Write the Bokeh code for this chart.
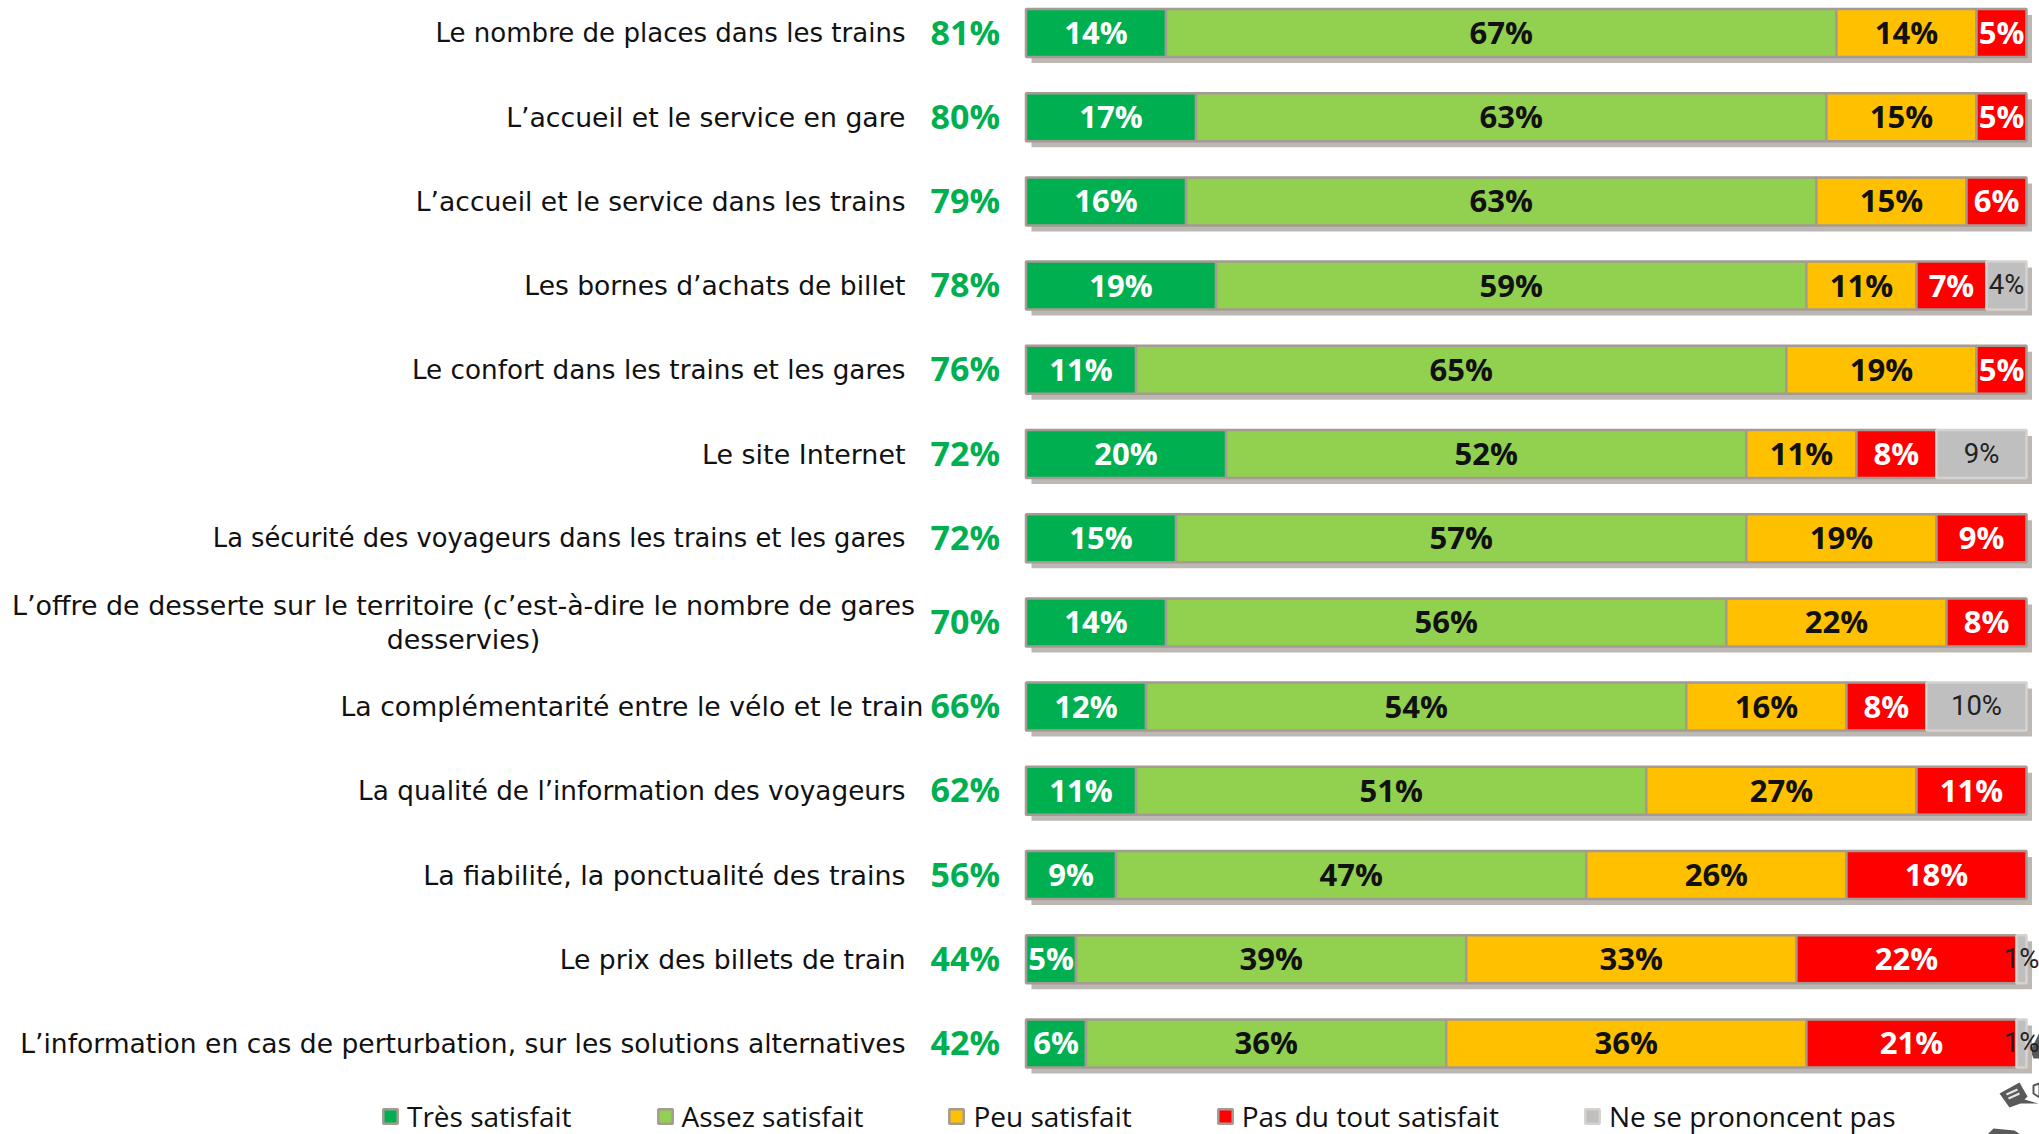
from bokeh.plotting import figure
from bokeh.models import ColumnDataSource, Legend, LegendItem, Range1d
from bokeh.core.properties import value
from bokeh.embed import file_html
from bokeh.resources import INLINE

categories = [
    "Le nombre de places dans les trains",
    "L’accueil et le service en gare",
    "L’accueil et le service dans les trains",
    "Les bornes d’achats de billet",
    "Le confort dans les trains et les gares",
    "Le site Internet",
    "La sécurité des voyageurs dans les trains et les gares",
    "L’offre de desserte sur le territoire (c’est-à-dire le nombre de gares\ndesservies)",
    "La complémentarité entre le vélo et le train",
    "La qualité de l’information des voyageurs",
    "La fiabilité, la ponctualité des trains",
    "Le prix des billets de train",
    "L’information en cas de perturbation, sur les solutions alternatives",
]
totals = [81, 80, 79, 78, 76, 72, 72, 70, 66, 62, 56, 44, 42]
tres = [14, 17, 16, 19, 11, 20, 15, 14, 12, 11, 9, 5, 6]
assez = [67, 63, 63, 59, 65, 52, 57, 56, 54, 51, 47, 39, 36]
peu = [14, 15, 15, 11, 19, 11, 19, 22, 16, 27, 26, 33, 36]
pas_du_tout = [5, 5, 6, 7, 5, 8, 9, 8, 8, 11, 18, 22, 21]
nspp = [0, 0, 0, 4, 0, 9, 0, 0, 10, 0, 0, 1, 1]

series = [
    ("Très satisfait", tres, "#00B050", "white", "bold", "#A59B94"),
    ("Assez satisfait", assez, "#92D050", "#111111", "bold", "#A59B94"),
    ("Peu satisfait", peu, "#FFC000", "#111111", "bold", "#A59B94"),
    ("Pas du tout satisfait", pas_du_tout, "#FF0000", "white", "bold", "#A59B94"),
    ("Ne se prononcent pas", nspp, "#BFBFBF", "#222222", "normal", "#D6D2D0"),
]

W, H = 2039, 1134
PX_X0, PX_PER_PCT = 1025.5, 10.005
PX_Y0, PX_PER_ROW = 32.5, 84.2
FONT = "Open Sans"
LABEL_FONT = "DejaVu Sans"
LABEL_SIZES = [26.05, 26.7, 26.55, 26.55, 26.25, 26.9, 25.75, 26.9, 26.7, 26.3, 26.9, 26.6, 26.55]


def X(px):
    return (px - PX_X0) / PX_PER_PCT


def Y(px):
    return (px - PX_Y0) / PX_PER_ROW


p = figure(width=W, height=H, output_backend="svg", toolbar_location=None,
           x_range=Range1d(X(0), X(W)), y_range=Range1d(Y(H), Y(0)),
           min_border=0, x_axis_location=None, y_axis_location=None)
p.outline_line_color = None
p.grid.visible = False
p.background_fill_color = "white"

# speech-bubble decoration, bottom right corner
p.patch(x=[X(v) for v in (1999, 2019, 2027, 2024, 2038, 2020, 2009)],
        y=[Y(v) for v in (1093, 1082, 1096, 1099, 1103, 1103, 1107)],
        fill_color="#595959", line_color=None)
p.multi_line(xs=[[X(2006), X(2017)], [X(2008), X(2019)]],
             ys=[[Y(1094), Y(1089)], [Y(1098), Y(1093)]],
             line_color="#E8E8E8", line_width=2)
p.patch(x=[X(v) for v in (2033, 2039, 2039, 2033)],
        y=[Y(v) for v in (1085, 1083, 1097, 1093)],
        fill_color="white", line_color="#595959", line_width=2)
p.patch(x=[X(v) for v in (1987, 1993, 2014, 2020, 1987)],
        y=[Y(v) for v in (1134, 1128, 1130, 1134, 1134)],
        fill_color="#595959", line_color=None)
p.patch(x=[X(v) for v in (2030, 2039, 2039, 2033)],
        y=[Y(v) for v in (1050, 1032, 1058, 1058)],
        fill_color="#595959", line_color=None)

rows = list(range(len(categories)))
BAR_H = 48 / PX_PER_ROW
shadow_dy = 6 / PX_PER_ROW
shadow_dx = 5.5 / PX_PER_PCT

p.quad(left=[shadow_dx] * len(rows), right=[100 + shadow_dx] * len(rows),
       top=[r - BAR_H / 2 + shadow_dy for r in rows],
       bottom=[r + BAR_H / 2 + shadow_dy for r in rows],
       fill_color="#BDB8B4", line_color=None)

left = [0] * len(rows)
items = []
for name, vals, col, tcol, tstyle, lcol in series:
    rr = [r for r, v in zip(rows, vals) if v > 0]
    ll = [l for l, v in zip(left, vals) if v > 0]
    vv = [v for v in vals if v > 0]
    src = ColumnDataSource(dict(
        y=rr, left=ll, right=[l + v for l, v in zip(ll, vv)],
        mid=[l + v / 2 for l, v in zip(ll, vv)],
        label=[f"{v}%" for v in vv]))
    g = p.hbar(y="y", left="left", right="right", height=BAR_H, source=src,
               fill_color=col, line_color=lcol, line_width=2.5)
    is_bold = tstyle == "bold"
    p.text(x="mid", y="y", text="label", source=src, text_align="center",
           text_baseline="middle", text_color=tcol,
           text_font=value(FONT if is_bold else "Roboto"),
           text_font_size="31px" if is_bold else "27.5px", text_font_style=tstyle,
           y_offset=-1)
    items.append(LegendItem(label=name, renderers=[g]))
    left = [l + v for l, v in zip(left, vals)]

# row labels and top-two-box scores
LABEL_RIGHT = [X(905)] * len(rows)
LABEL_RIGHT[8] = X(923)
single = [r for r in rows if "\n" not in categories[r]]
single_src = ColumnDataSource(dict(
    x=[LABEL_RIGHT[r] for r in single], y=single,
    text=[categories[r] for r in single],
    size=[f"{LABEL_SIZES[r]}px" for r in single]))
p.text(x="x", y="y", text="text", source=single_src,
       text_align="right", text_baseline="middle", text_color="#111111",
       text_font=value(LABEL_FONT), text_font_size={"field": "size"})
multi = [r for r in rows if "\n" in categories[r]]
p.text(x=[X(463) for r in multi], y=multi, text=[categories[r] for r in multi],
       text_align="center", text_baseline="middle", text_color="#111111",
       text_font=value(LABEL_FONT), text_font_size="26.9px", text_line_height=1.12)
p.text(x=[X(930)] * len(rows), y=rows, text=[f"{t}%" for t in totals],
       text_align="left", text_baseline="middle", text_color="#00B050",
       text_font=value(FONT), text_font_size="34px", text_font_style="bold", y_offset=-1.5)

legend = Legend(items=items, orientation="horizontal", location=(381, -1),
                spacing=84, padding=0, margin=0, glyph_width=18, glyph_height=18,
                label_standoff=8, border_line_color=None, background_fill_alpha=0,
                label_text_font=FONT, label_text_font_size="28px", label_text_color="#111111")
p.add_layout(legend, "center")

open("out.html", "w").write(file_html(p, INLINE))
